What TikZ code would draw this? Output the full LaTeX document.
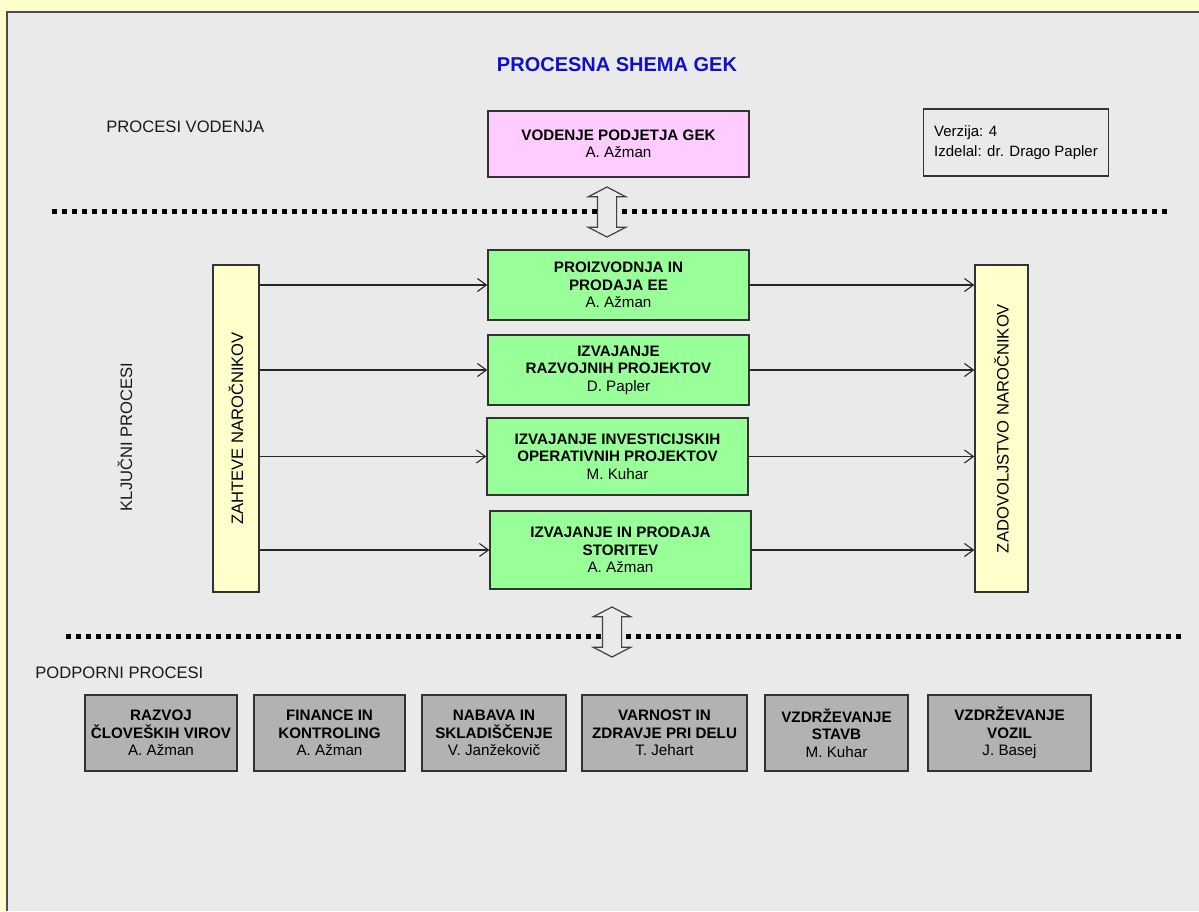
\documentclass[tikz,border=0pt]{standalone}
\usepackage{fontspec}
\setmainfont{Liberation Sans}
\usepackage{graphicx}
\usetikzlibrary{shapes.arrows, arrows.meta}

\definecolor{rumena}{HTML}{FFFFCC}
\definecolor{ozadje}{HTML}{EAEAEA}
\definecolor{roza}{HTML}{FFCCFF}
\definecolor{zelena}{HTML}{99FF99}
\definecolor{siva}{HTML}{B2B2B2}
\definecolor{naslov}{RGB}{16,16,204}

\begin{document}
\begin{tikzpicture}[x=0.5pt, y=-0.5pt,
  okvir/.style={draw=black!80, line width=0.65pt, align=center, inner sep=0pt,
    font=\fontsize{7.6}{8.75}\selectfont\bfseries},
  zeleni/.style={okvir, fill=zelena, minimum width=130.5pt},
  sivi/.style={okvir, fill=siva, minimum height=38pt},
  rumeni/.style={okvir, fill=rumena, minimum height=163.5pt, font=\fontsize{8.3}{10}\selectfont},
  puscica/.style={-{Straight Barb[length=4.5pt,width=6.5pt]}, line width=0.55pt, black!85},
  locilo/.style={line width=2.5pt, dash pattern=on 2.5pt off 2.5pt, black},
  dvojna/.style={double arrow, rotate=90, draw=black!75, fill=ozadje, line width=0.6pt,
    inner xsep=0pt, inner ysep=4.5pt, minimum height=25pt, minimum width=18pt,
    double arrow head extend=4.5pt, double arrow tip angle=125},
  oznaka/.style={font=\fontsize{8.3}{10}\selectfont, text=black!90, inner sep=0pt}
]
\useasboundingbox (0,0) rectangle (1199,911);
\fill[rumena] (0,0) rectangle (1199,911);
\fill[ozadje] (7,12) rectangle (1199,911);
\draw[black!70, line width=0.8pt] (7,911) -- (7,12) -- (1199,12);

% naslov in oznake
\node[font=\fontsize{10}{12}\selectfont\bfseries, text=naslov] (naslov) at (617,65) {PROCESNA SHEMA GEK};
\node[oznaka, anchor=west] (vodenjeoz) at (106,127) {PROCESI VODENJA};
\node[oznaka, rotate=90] (kljucnioz) at (125,437) {KLJUČNI PROCESI};
\node[oznaka, anchor=west] (podpornioz) at (35,673) {PODPORNI PROCESI};

% procesi vodenja
\node[okvir, fill=roza, minimum width=130.5pt, minimum height=33pt] (vodenje) at (618.5,144)
  {VODENJE PODJETJA GEK\\\mdseries A. Ažman};
\node[okvir, fill=none, minimum width=92.5pt, minimum height=33.5pt, align=left,
  font=\fontsize{7.5}{10}\selectfont] (verzija) at (1016,142.5)
  {Verzija: 4\\Izdelal: dr. Drago Papler};

% locilne crte
\draw[locilo] (52,211) -- (1167,211);
\draw[locilo] (66,636) -- (1181,636);
\node[dvojna] (puscica1) at (607,212) {};
\node[dvojna] (puscica2) at (612,632) {};

% kljucni procesi
\node[rumeni, minimum width=23pt] (zahteve) at (236,428.5) {\rotatebox{90}{ZAHTEVE NAROČNIKOV}};
\node[rumeni, minimum width=26.5pt] (zadovoljstvo) at (1001.5,428.5) {\rotatebox{90}{ZADOVOLJSTVO NAROČNIKOV}};

\node[zeleni, minimum height=35pt] (proizvodnja) at (618.5,285)
  {PROIZVODNJA IN\\PRODAJA EE\\\mdseries A. Ažman};
\node[zeleni, minimum height=35pt] (razvoj) at (618.5,370)
  {IZVAJANJE\\RAZVOJNIH PROJEKTOV\\\mdseries D. Papler};
\node[zeleni, minimum height=38.5pt] (investicije) at (617.5,456.5)
  {IZVAJANJE INVESTICIJSKIH\\OPERATIVNIH PROJEKTOV\\\mdseries M. Kuhar};
\node[zeleni, minimum height=39pt] (storitve) at (620.5,550)
  {IZVAJANJE IN PRODAJA\\STORITEV\\\mdseries A. Ažman};

\foreach \p in {proizvodnja, razvoj, investicije, storitve} {
  \draw[puscica] (\p.west -| zahteve.east) -- (\p.west);
  \draw[puscica] (\p.east) -- (\p.east -| zadovoljstvo.west);
}

% podporni procesi
\node[sivi, minimum width=76pt] (kadri) at (161,733)
  {RAZVOJ\\ČLOVEŠKIH VIROV\\\mdseries A. Ažman};
\node[sivi, minimum width=75.5pt] (finance) at (329.5,733)
  {FINANCE IN\\KONTROLING\\\mdseries A. Ažman};
\node[sivi, minimum width=72pt] (nabava) at (494,733)
  {NABAVA IN\\SKLADIŠČENJE\\\mdseries V. Janžekovič};
\node[sivi, minimum width=82.5pt] (varnost) at (664.5,733)
  {VARNOST IN\\ZDRAVJE PRI DELU\\\mdseries T. Jehart};
\node[sivi, minimum width=71.5pt] (stavbe) at (836.5,733)
  {VZDRŽEVANJE\\STAVB\\\mdseries M. Kuhar};
\node[sivi, minimum width=81.5pt] (vozila) at (1009.5,733)
  {VZDRŽEVANJE\\VOZIL\\\mdseries J. Basej};
\end{tikzpicture}
\end{document}
